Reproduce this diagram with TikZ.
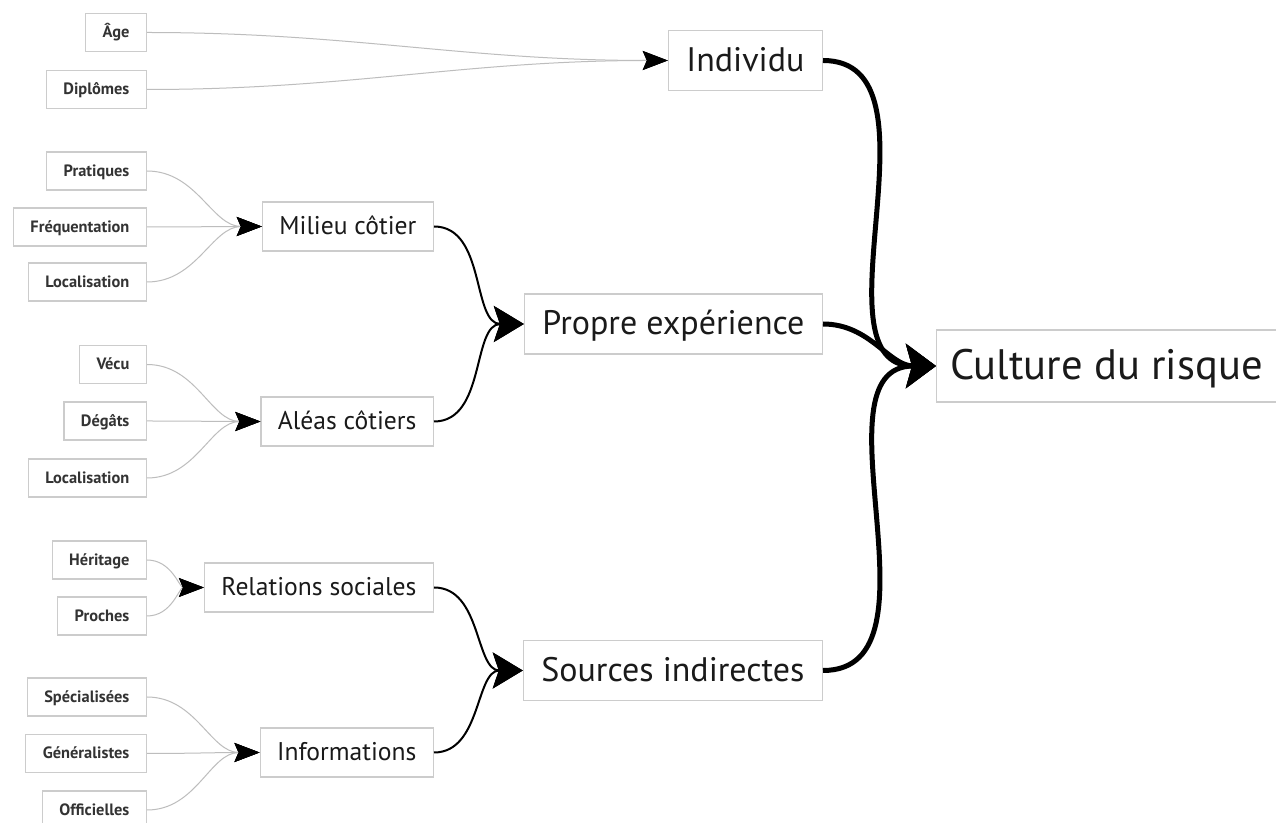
\documentclass[tikz,border=0pt]{standalone}
\usepackage{fontspec}
\setmainfont{PT Sans}
\usetikzlibrary{arrows.meta}
\definecolor{boxgray}{HTML}{CCCCCC}
\definecolor{linegray}{HTML}{BDBDBD}
\definecolor{txt}{HTML}{1A1A1A}
\definecolor{leaftxt}{HTML}{333333}
\begin{document}
\begin{tikzpicture}[x=0.5pt,y=-0.5pt,
  box/.style={draw=boxgray, line width=0.6pt, text=txt, inner ysep=0pt},
  leaf/.style={box, font=\fontsize{8.2}{10}\selectfont\bfseries, text=leaftxt, text height=5.8pt, text depth=0.6pt, minimum height=19pt, inner xsep=8.5pt, anchor=east},
  midbox/.style={box, font=\fontsize{12.8}{15}\selectfont, text height=9pt, text depth=0.9pt, minimum height=24.5pt, inner xsep=8.5pt, anchor=east},
  subbox/.style={box, font=\fontsize{17}{20}\selectfont, text height=11.9pt, text depth=1.1pt, minimum height=30pt, inner xsep=9pt, anchor=east},
  mainbox/.style={box, font=\fontsize{21.3}{25}\selectfont, text height=14.9pt, text depth=1.3pt, minimum height=36pt, inner xsep=6.8pt, anchor=west},
  thinline/.style={draw=linegray, line width=0.5pt, -{Stealth[color=black, length=12.5pt, width=9.5pt, inset=2pt]}},
  midline/.style={draw=black, line width=1pt, -{Stealth[length=15pt, width=18pt, inset=3pt]}},
  mainline/.style={draw=black, line width=2.5pt, -{Stealth[length=15pt, width=22pt, inset=3pt]}}
]
\useasboundingbox (0,0) rectangle (1276,823);
\fill[white] (0,0) rectangle (1276,823);

% leaves
\node[leaf] (age)   at (147,32.5) {Âge};
\node[leaf] (dipl)  at (147,89.5) {Diplômes};
\node[leaf] (prat)  at (147,171)  {Pratiques};
\node[leaf] (freq)  at (147,227)  {Fréquentation};
\node[leaf] (loca)  at (147,282)  {Localisation};
\node[leaf] (vecu)  at (147,364.5){Vécu};
\node[leaf] (degat) at (147,421)  {Dégâts};
\node[leaf] (locb)  at (147,478)  {Localisation};
\node[leaf] (herit) at (147,560)  {Héritage};
\node[leaf] (proch) at (147,616)  {Proches};
\node[leaf] (spec)  at (147,697)  {Spécialisées};
\node[leaf] (gene)  at (147,753.5){Généralistes};
\node[leaf] (offi)  at (147,810)  {Officielles};

% intermediate
\node[midbox] (milieu) at (434,226.5) {Milieu côtier};
\node[midbox] (aleas)  at (434,421.5) {Aléas côtiers};
\node[midbox] (relat)  at (434,587.5) {Relations sociales};
\node[midbox] (infos)  at (434,752.5) {Informations};

% second level
\node[subbox] (indiv)  at (823,60.5)  {Individu};
\node[subbox] (propre) at (823,324)   {Propre expérience};
\node[subbox] (sources) at (823,670.5) {Sources indirectes};

% main
\node[mainbox] (culture) at (936,366) {Culture du risque};

% leaf connectors
\draw[thinline] (age.east)   to[out=0,in=180] (indiv.west);
\draw[thinline] (dipl.east)  to[out=0,in=180] (indiv.west);
\draw[thinline] (prat.east)  to[out=0,in=180] (milieu.west);
\draw[thinline] (freq.east)  to[out=0,in=180] (milieu.west);
\draw[thinline] (loca.east)  to[out=0,in=180] (milieu.west);
\draw[thinline] (vecu.east)  to[out=0,in=180] (aleas.west);
\draw[thinline] (degat.east) to[out=0,in=180] (aleas.west);
\draw[thinline] (locb.east)  to[out=0,in=180] (aleas.west);
\draw[thinline] (herit.east) to[out=0,in=180] (relat.west);
\draw[thinline] (proch.east) to[out=0,in=180] (relat.west);
\draw[thinline] (spec.east)  to[out=0,in=180] (infos.west);
\draw[thinline] (gene.east)  to[out=0,in=180] (infos.west);
\draw[thinline] (offi.east)  to[out=0,in=180] (infos.west);

% intermediate connectors
\draw[midline] (milieu.east) to[out=0,in=180] (propre.west);
\draw[midline] (aleas.east)  to[out=0,in=180] (propre.west);
\draw[midline] (relat.east)  to[out=0,in=180] (sources.west);
\draw[midline] (infos.east)  to[out=0,in=180] (sources.west);

% main connectors
\draw[mainline] (indiv.east)   to[out=0,in=180] (culture.west);
\draw[mainline] (propre.east)  to[out=0,in=180] (culture.west);
\draw[mainline] (sources.east) to[out=0,in=180] (culture.west);
\end{tikzpicture}
\end{document}
